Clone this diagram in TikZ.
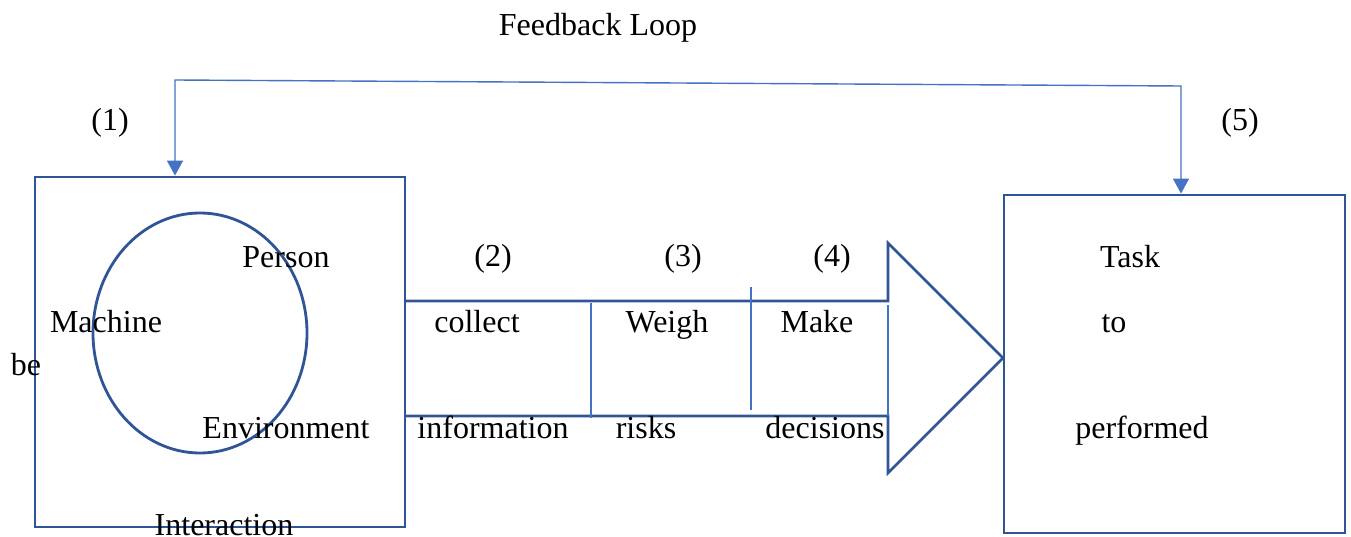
\documentclass[tikz,border=0pt]{standalone}
\usepackage{fontspec}
\setmainfont{Liberation Serif}
\usetikzlibrary{arrows.meta,shapes.geometric}
\definecolor{frameblue}{RGB}{47,85,151}
\definecolor{lineblue}{RGB}{68,114,196}
\begin{document}
\begin{tikzpicture}[x=1pt,y=-1pt,
  frame/.style={draw=frameblue,line width=2.8pt},
  boxnode/.style={frame,rectangle,inner sep=0pt},
  fb/.style={draw=lineblue,line width=1.4pt},
  divider/.style={draw=lineblue,line width=1.1pt},
  lbl/.style={anchor=base,inner sep=0pt,font=\fontsize{32}{38}\selectfont},
  tip/.tip={Triangle[width=16pt,length=15pt]}]
\useasboundingbox (0,0) rectangle (1351,537);

% boxes
\node[boxnode,minimum width=370pt,minimum height=350pt] (pme) at (220,352) {};
\node[boxnode,minimum width=341pt,minimum height=338pt] (task) at (1174.5,364) {};
\node[draw=frameblue,line width=2.8pt,ellipse,inner sep=0pt,
      minimum width=214pt,minimum height=240pt] (circ) at (200,333) {};

% process arrow
\draw[frame,line join=miter] (405,301) -- (888,301) -- (888,243) -- (1003,358)
  -- (888,473) -- (888,416) -- (405,416);
\draw[divider] (591,303) -- (591,418);
\draw[divider] (751,287) -- (751,410);
\draw[divider] (888,305) -- (888,416);

% feedback loop
\coordinate (fbL) at (175,80);
\coordinate (fbR) at (1181,86);
\draw[fb,tip-tip] (fbL |- pme.north) -- (fbL) -- (fbR) -- (fbR |- task.north);

% labels
\node[lbl] (fbtxt) at (598,36) {Feedback Loop};
\node[lbl] (n1) at (110,131) {(1)};
\node[lbl] (n5) at (1240,131) {(5)};
\node[lbl] (n2) at (493,266) {(2)};
\node[lbl] (n3) at (683,266) {(3)};
\node[lbl] (n4) at (832,266) {(4)};

\node[lbl] (person) at (286,268) {Person};
\node[lbl] (machine) at (106,332) {Machine};
\node[lbl] (be) at (26,375) {be};
\node[lbl] (env) at (286,438) {Environment};
\node[lbl] (inter) at (224,535) {Interaction};

\node[lbl] (collect) at (477,332) {collect};
\node[lbl] (weigh) at (667,332) {Weigh};
\node[lbl] (make) at (817,332) {Make};
\node[lbl] (info) at (493,438) {information};
\node[lbl] (risks) at (646,438) {risks};
\node[lbl] (dec) at (825,438) {decisions};

\node[lbl] (tasktxt) at (1130,268) {Task};
\node[lbl] (to) at (1114,332) {to};
\node[lbl] (perf) at (1142,438) {performed};
\end{tikzpicture}
\end{document}
